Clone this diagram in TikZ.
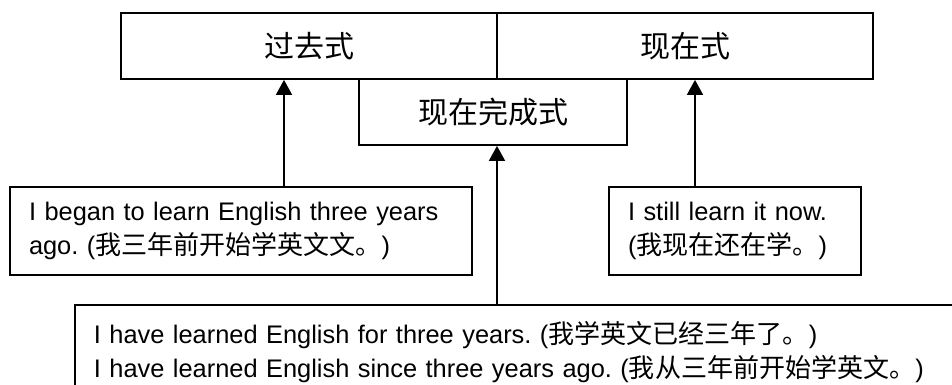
\documentclass[tikz,border=0pt]{standalone}
\usepackage{fontspec}
\setmainfont{Liberation Sans}
\newfontfamily\cjk[Scale=1.025]{Noto Sans CJK SC}
\newfontfamily\cjktop{Noto Sans CJK SC}
\usetikzlibrary{arrows.meta}
\frenchspacing
\begin{document}
\begin{tikzpicture}[x=1pt,y=-1pt,
  box/.style={draw,line width=1.8pt,inner sep=0pt},
  topbox/.style={box,minimum width=376pt,minimum height=66pt,font=\cjktop\fontsize{30}{36}\selectfont},
  midbox/.style={box,minimum width=268pt,minimum height=66pt,font=\cjktop\fontsize{30}{36}\selectfont},
  txtbox/.style={box,align=left,inner xsep=19pt,font=\fontsize{25.4}{34}\selectfont},
  arr/.style={line width=1.8pt,-{Triangle[width=16pt,length=15pt]}}]
\useasboundingbox (0,0) rectangle (952,385);
\clip (0,0) rectangle (952,385);
\node[topbox] (past) at (309,46) {过去式};
\node[topbox] (present) at (685,46) {现在式};
\node[midbox] (perfect) at (493,112) {现在完成式};
\node[txtbox,text width=424pt,minimum height=88pt] (leftbox) at (241,231)
  {I began to learn English three years\\ago. ({\cjk 我三年前开始学英文文。})};
\node[txtbox,text width=214pt,minimum height=88pt] (rightbox) at (735,231)
  {I still learn it now.\\({\cjk 我现在还在学。})};
\node[txtbox,text width=860pt,inner ysep=16pt,anchor=north west] (bottombox) at (74,304)
  {I have learned English for three years. ({\cjk 我学英文已经三年了。})\\
   I have learned English since three years ago. ({\cjk 我从三年前开始学英文。})};
\coordinate (xa) at (284,0);
\coordinate (xb) at (497,0);
\coordinate (xc) at (695,0);
\draw[arr] (leftbox.north -| xa) -- (past.south -| xa);
\draw[arr] (bottombox.north -| xb) -- (perfect.south -| xb);
\draw[arr] (rightbox.north -| xc) -- (present.south -| xc);
\end{tikzpicture}
\end{document}
